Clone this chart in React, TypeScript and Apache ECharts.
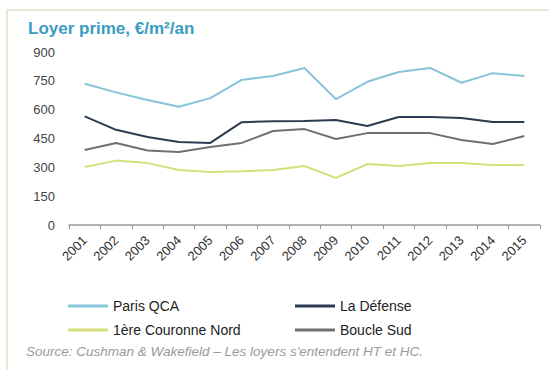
import React, { useEffect, useRef } from "react";
import * as echarts from "echarts";

const years = ["2001","2002","2003","2004","2005","2006","2007","2008","2009","2010","2011","2012","2013","2014","2015"];
const parisQCA = [735, 690, 650, 615, 660, 755, 775, 817, 655, 745, 796, 817, 740, 790, 775];
const laDefense = [565, 495, 458, 432, 427, 535, 540, 541, 546, 515, 562, 562, 557, 536, 536];
const couronneNord = [302, 335, 322, 286, 276, 280, 286, 307, 245, 317, 307, 322, 322, 312, 312];
const boucleSud = [390, 427, 388, 380, 406, 427, 489, 499, 447, 478, 478, 478, 442, 421, 463];
const yTicks = [0, 150, 300, 450, 600, 750, 900];

const FONT = "'Liberation Sans', Arial, sans-serif";

export default function App() {
  const ref = useRef<HTMLDivElement>(null);
  useEffect(() => {
    if (!ref.current) return;
    const chart = echarts.init(ref.current, null, { renderer: "svg" });
    const mk = (name: string, data: number[], color: string) => ({
      name,
      type: "line",
      data,
      symbol: "none",
      lineStyle: { color, width: 2 },
      itemStyle: { color },
    });
    const legendText = { fontFamily: FONT, fontSize: 14, color: "#222" };
    chart.setOption({
      animation: false,
      backgroundColor: "#ffffff",
      title: {
        text: "Loyer prime, €/m²/an",
        left: 23,
        top: 15,
        textStyle: { fontFamily: FONT, fontSize: 17, fontWeight: "bold", color: "#3a9cbf" },
      },
      grid: { left: 69, right: 10, top: 52, bottom: 145 },
      xAxis: {
        type: "category",
        data: years,
        boundaryGap: true,
        axisLine: { lineStyle: { color: "#999", width: 1.5 } },
        axisTick: { show: true, lineStyle: { color: "#999" }, length: 4 },
        axisLabel: { rotate: 45, fontFamily: FONT, fontSize: 13, color: "#333", margin: 13 },
      },
      yAxis: {
        type: "value",
        min: yTicks[0],
        max: yTicks[yTicks.length - 1],
        interval: 150,
        splitLine: { show: false },
        axisLine: { show: false },
        axisTick: { show: false },
        axisLabel: { fontFamily: FONT, fontSize: 13, color: "#444", margin: 14 },
      },
      legend: [
        {
          orient: "vertical",
          left: 63,
          top: 294,
          itemGap: 10,
          itemWidth: 40,
          itemHeight: 3,
          icon: "rect",
          data: ["Paris QCA", "1ère Couronne Nord"],
          textStyle: legendText,
        },
        {
          orient: "vertical",
          left: 290,
          top: 294,
          itemGap: 10,
          itemWidth: 40,
          itemHeight: 3,
          icon: "rect",
          data: ["La Défense", "Boucle Sud"],
          textStyle: legendText,
        },
      ],
      graphic: [
        { type: "line", shape: { x1: 6, y1: 10, x2: 549, y2: 10 }, style: { stroke: "#ebe6d2", lineWidth: 2 } },
        { type: "line", shape: { x1: 7, y1: 10, x2: 7, y2: 370 }, style: { stroke: "#ebe6d2", lineWidth: 2 } },
        {
          type: "text",
          left: 26,
          top: 344,
          style: {
            text: "Source: Cushman & Wakefield – Les loyers s'entendent HT et HC.",
            font: "italic 13.5px " + FONT,
            fill: "#9a9a9a",
          },
        },
      ],
      series: [
        mk("Paris QCA", parisQCA, "#86c5d8"),
        mk("La Défense", laDefense, "#2c3b52"),
        mk("1ère Couronne Nord", couronneNord, "#d6de7c"),
        mk("Boucle Sud", boucleSud, "#6e7073"),
      ],
    });
    return () => chart.dispose();
  }, []);
  return <div ref={ref} style={{ position: "fixed", left: 0, top: 0, width: 550, height: 370 }} />;
}
